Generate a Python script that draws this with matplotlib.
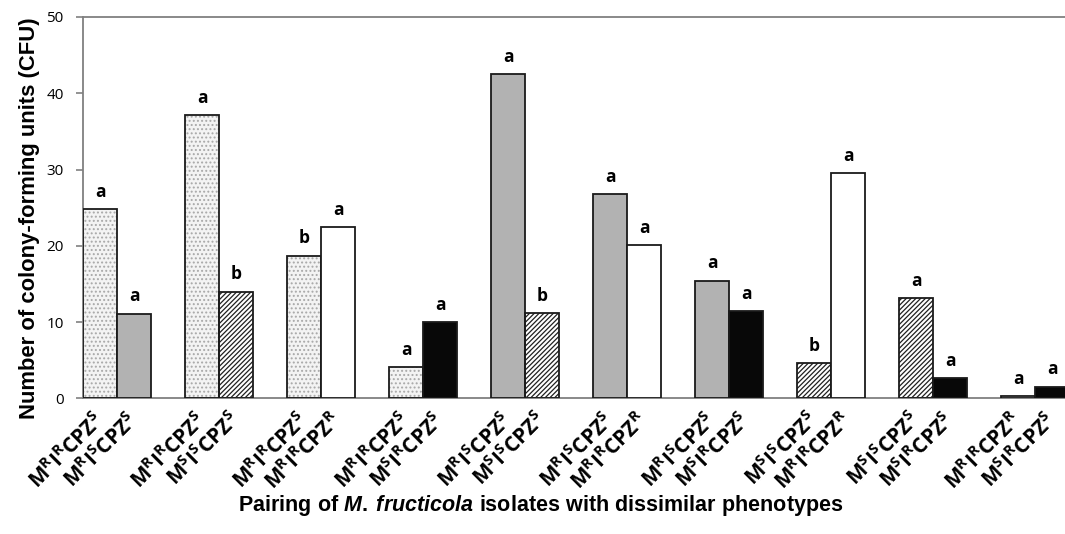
import numpy as np
import matplotlib
matplotlib.use("Agg")
import matplotlib.pyplot as plt

plt.rcParams['mathtext.fontset'] = 'custom'
plt.rcParams['mathtext.rm'] = 'Liberation Sans:bold'
plt.rcParams['mathtext.sf'] = 'Open Sans:bold'
plt.rcParams['mathtext.bf'] = 'Liberation Sans:bold'
plt.rcParams['mathtext.it'] = 'Liberation Sans:bold:italic'
plt.rcParams['hatch.linewidth'] = 0.9

# phenotype of each isolate
PHEN = {
    'RRS': r'$\mathsf{M^{R}I^{R}CPZ^{S}}$',
    'RSS': r'$\mathsf{M^{R}I^{S}CPZ^{S}}$',
    'SSS': r'$\mathsf{M^{S}I^{S}CPZ^{S}}$',
    'RRR': r'$\mathsf{M^{R}I^{R}CPZ^{R}}$',
    'SRS': r'$\mathsf{M^{S}I^{R}CPZ^{S}}$',
}

# pairings (first isolate, second isolate)
first_iso = ['RRS', 'RRS', 'RRS', 'RRS', 'RSS', 'RSS', 'RSS', 'SSS', 'SSS', 'RRR']
second_iso = ['RSS', 'SSS', 'RRR', 'SRS', 'SSS', 'RRR', 'SRS', 'RRR', 'SRS', 'SRS']

first_cfu = [24.8, 37.1, 18.7, 4.1, 42.5, 26.8, 15.4, 4.6, 13.1, 0.3]
second_cfu = [11.1, 14.0, 22.4, 10.0, 11.2, 20.1, 11.4, 29.5, 2.6, 1.5]

first_let = ['a', 'a', 'b', 'a', 'a', 'a', 'a', 'b', 'a', 'a']
second_let = ['a', 'b', 'a', 'a', 'b', 'a', 'a', 'a', 'a', 'a']

# fill style per phenotype: (facecolor, hatch, hatch colour)
STYLE = {
    'RRS': ('#f3f3f3', '....', '#a8a8a8'),
    'RSS': ('#b2b2b2', None, None),
    'SSS': ('white', '///////', '#202020'),
    'RRR': ('white', None, None),
    'SRS': ('#080808', None, None),
}

w = 1 / 3.0


def draw_bar(ax, x, h, key):
    fc, hatch, hc = STYLE[key]
    if hatch is not None:
        ax.bar(x, h, w, color=fc, edgecolor=hc, hatch=hatch, linewidth=0, zorder=2)
        ax.bar(x, h, w, color='none', edgecolor='#1a1a1a', linewidth=1.3, zorder=3)
    else:
        ax.bar(x, h, w, color=fc, edgecolor='#1a1a1a', linewidth=1.3, zorder=3)


fig = plt.figure(figsize=(10.65, 5.34), dpi=100)
ax = fig.add_axes([83 / 1065, 1 - 398.3 / 534, 1 - 83 / 1065, (398.3 - 17) / 534])

groups = np.arange(len(first_cfu))
for i in groups:
    x1, x2 = i - w / 2, i + w / 2
    draw_bar(ax, x1, first_cfu[i], first_iso[i])
    draw_bar(ax, x2, second_cfu[i], second_iso[i])
    ax.text(x1, first_cfu[i] + 1.1, first_let[i], ha='center', va='bottom',
            fontsize=12.5, fontweight='bold', family='Open Sans')
    ax.text(x2, second_cfu[i] + 1.1, second_let[i], ha='center', va='bottom',
            fontsize=12.5, fontweight='bold', family='Open Sans')

ax.set_xlim(-w, 9.294)
ax.set_ylim(0, 50)
ax.set_yticks([0, 10, 20, 30, 40, 50])
ax.set_yticklabels(['0', '10', '20', '30', '40', '50'], family='Open Sans', fontsize=11)

ticks = np.concatenate([groups - w / 2, groups + w / 2])
labels = [PHEN[k] for k in first_iso] + [PHEN[k] for k in second_iso]
ax.set_xticks(ticks)
ax.set_xticklabels(labels, rotation=45, ha='right', va='center',
                   rotation_mode='anchor', fontsize=15)
ax.tick_params(axis='x', length=0, pad=13)
ax.tick_params(axis='y', length=5, color='#808080', width=1.2, direction='out', pad=9)

for s in ['left', 'top', 'bottom']:
    ax.spines[s].set_color('#808080')
    ax.spines[s].set_linewidth(1.3)
ax.spines['right'].set_visible(False)

fig.text(541 / 1065, 1 - 506 / 534,
         r'$\mathbf{Pairing\ of\ }\mathit{M.}\:\mathit{fructicola}\mathbf{\ isolates\ with\ dissimilar\ phenotypes}$',
         ha='center', va='center', fontsize=15.5)
fig.text(30 / 1065, 1 - 218 / 534, 'Number of colony-forming units (CFU)',
         rotation=90, ha='center', va='center', fontsize=15.8, fontweight='bold',
         family='Liberation Sans')

fig.savefig('out.png', dpi=100)
